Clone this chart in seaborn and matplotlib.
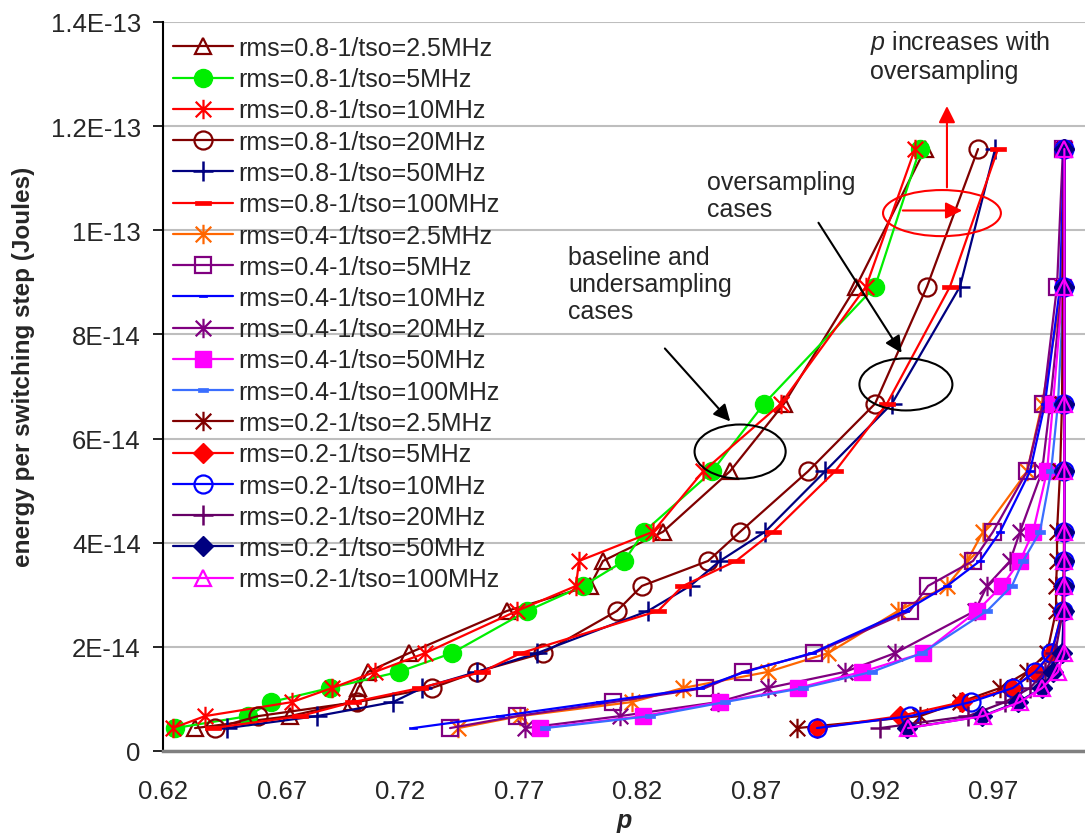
import numpy as np
import pandas as pd
import matplotlib
matplotlib.use("Agg")
import matplotlib.pyplot as plt
import seaborn as sns
from matplotlib.path import Path
from matplotlib.patches import Ellipse

# ---------------- data ----------------
energy = [4.4e-15, 6.7e-15, 9.4e-15, 1.21e-14, 1.52e-14, 1.88e-14, 2.69e-14,
          3.17e-14, 3.65e-14, 4.21e-14, 5.37e-14, 6.67e-14, 8.92e-14, 1.156e-13]

series_labels = [
    "rms=0.8-1/tso=2.5MHz", "rms=0.8-1/tso=5MHz", "rms=0.8-1/tso=10MHz",
    "rms=0.8-1/tso=20MHz", "rms=0.8-1/tso=50MHz", "rms=0.8-1/tso=100MHz",
    "rms=0.4-1/tso=2.5MHz", "rms=0.4-1/tso=5MHz", "rms=0.4-1/tso=10MHz",
    "rms=0.4-1/tso=20MHz", "rms=0.4-1/tso=50MHz", "rms=0.4-1/tso=100MHz",
    "rms=0.2-1/tso=2.5MHz", "rms=0.2-1/tso=5MHz", "rms=0.2-1/tso=10MHz",
    "rms=0.2-1/tso=20MHz", "rms=0.2-1/tso=50MHz", "rms=0.2-1/tso=100MHz",
]

p_rms08_tso2_5 = [0.6335, 0.6735, 0.6997, 0.7022, 0.7064, 0.7237, 0.7650,
                  0.8000, 0.8055, 0.8308, 0.8590, 0.8818, 0.9122, 0.9413]
p_rms08_tso5 = [0.6251, 0.6558, 0.6655, 0.6904, 0.7195, 0.7418, 0.7735,
                0.7971, 0.8144, 0.8228, 0.8515, 0.8734, 0.9202, 0.9391]
p_rms08_tso10 = [0.6242, 0.6377, 0.6744, 0.6913, 0.7094, 0.7305, 0.7692,
                 0.7941, 0.7954, 0.8266, 0.8477, 0.8805, 0.9164, 0.9370]
p_rms08_tso20 = [0.6419, 0.6601, 0.7018, 0.7334, 0.7524, 0.7802, 0.8114,
                 0.8219, 0.8498, 0.8633, 0.8919, 0.9202, 0.9421, 0.9636]
p_rms08_tso50 = [0.6470, 0.6849, 0.7170, 0.7292, 0.7524, 0.7777, 0.8245,
                 0.8422, 0.8548, 0.8738, 0.8991, 0.9273, 0.9560, 0.9708]
p_rms08_tso100 = [0.6411, 0.6778, 0.7001, 0.7283, 0.7545, 0.7709, 0.8287,
                  0.8392, 0.8616, 0.8772, 0.9033, 0.9252, 0.9518, 0.9720]
p_rms04_tso2_5 = [0.7444, 0.7705, 0.8177, 0.8392, 0.8751, 0.9004, 0.9299,
                  0.9505, 0.9590, 0.9657, 0.9843, 0.9906, 0.9994, 1.0000]
p_rms04_tso5 = [0.7410, 0.7692, 0.8097, 0.8485, 0.8645, 0.8945, 0.9349,
                0.9425, 0.9615, 0.9699, 0.9843, 0.9910, 0.9969, 0.9994]
p_rms04_tso10 = [0.7254, 0.7621, 0.8042, 0.8464, 0.8654, 0.8936, 0.9328,
                 0.9505, 0.9644, 0.9729, 0.9855, 0.9918, 0.9982, 0.9998]
p_rms04_tso20 = [0.7726, 0.8127, 0.8540, 0.8751, 0.9075, 0.9286, 0.9623,
                 0.9674, 0.9771, 0.9813, 0.9906, 0.9940, 0.9990, 1.0000]
p_rms04_tso50 = [0.7789, 0.8224, 0.8548, 0.8877, 0.9147, 0.9404, 0.9632,
                 0.9737, 0.9813, 0.9868, 0.9927, 0.9952, 0.9994, 1.0000]
p_rms04_tso100 = [0.7811, 0.8253, 0.8569, 0.8898, 0.9189, 0.9400, 0.9674,
                  0.9779, 0.9826, 0.9897, 0.9944, 0.9973, 0.9998, 1.0000]
p_rms02_tso2_5 = [0.8873, 0.9391, 0.9560, 0.9729, 0.9843, 0.9927, 0.9965,
                  0.9965, 0.9969, 0.9969, 0.9982, 0.9990, 0.9994, 0.9998]
p_rms02_tso5 = [0.8957, 0.9307, 0.9569, 0.9779, 0.9880, 0.9948, 0.9990,
                0.9994, 0.9998, 0.9998, 1.0000, 1.0000, 1.0000, 1.0000]
p_rms02_tso10 = [0.8957, 0.9349, 0.9606, 0.9783, 0.9876, 0.9944, 0.9994,
                 0.9998, 0.9998, 1.0000, 1.0000, 1.0000, 1.0000, 1.0000]
p_rms02_tso20 = [0.9223, 0.9594, 0.9750, 0.9855, 0.9918, 0.9961, 0.9994,
                 0.9998, 1.0000, 1.0000, 1.0000, 1.0000, 1.0000, 1.0000]
p_rms02_tso50 = [0.9337, 0.9653, 0.9805, 0.9906, 0.9952, 0.9990, 0.9998,
                 1.0000, 1.0000, 1.0000, 1.0000, 1.0000, 1.0000, 1.0000]
p_rms02_tso100 = [0.9341, 0.9657, 0.9813, 0.9906, 0.9973, 1.0000, 1.0000,
                  1.0000, 1.0000, 1.0000, 1.0000, 1.0000, 1.0000, 1.0000]

p_series = [p_rms08_tso2_5, p_rms08_tso5, p_rms08_tso10, p_rms08_tso20,
            p_rms08_tso50, p_rms08_tso100, p_rms04_tso2_5, p_rms04_tso5,
            p_rms04_tso10, p_rms04_tso20, p_rms04_tso50, p_rms04_tso100,
            p_rms02_tso2_5, p_rms02_tso5, p_rms02_tso10, p_rms02_tso20,
            p_rms02_tso50, p_rms02_tso100]

df = pd.DataFrame({
    "series": np.repeat(series_labels, len(energy)),
    "p": np.concatenate(p_series),
    "energy": np.tile(energy, len(series_labels)),
    "order": np.tile(np.arange(len(energy)), len(series_labels)),
})

# ---------------- styles ----------------
ast = Path([(0, -1), (0, 1), (-0.8, -0.8), (0.8, 0.8), (-0.8, 0.8), (0.8, -0.8)],
           [Path.MOVETO, Path.LINETO, Path.MOVETO, Path.LINETO, Path.MOVETO, Path.LINETO])
dash = Path([(-1, -0.32), (1, -0.32), (1, 0.32), (-1, 0.32), (-1, -0.32)], closed=True)

DR, GR, RD, NV = "#800000", "#00EE00", "#FF0000", "#000080"
OR, PU, BL, MG, CB, DP = "#FF6600", "#800080", "#0000FF", "#FF00FF", "#3A6EFF", "#660066"

styles = [
    dict(color=DR, marker="^", ms=12, mfc="none", mew=1.6),
    dict(color=GR, marker="o", ms=13, mfc=GR, mew=1.0),
    dict(color=RD, marker=ast, ms=14, mfc="none", mew=1.6),
    dict(color=DR, marker="o", ms=13, mfc="none", mew=1.6),
    dict(color=NV, marker="+", ms=14, mfc="none", mew=1.8),
    dict(color=RD, marker=dash, ms=11, mfc=RD, mew=0.5),
    dict(color=OR, marker=ast, ms=14, mfc="none", mew=1.6),
    dict(color=PU, marker="s", ms=12, mfc="none", mew=1.6),
    dict(color=BL, marker=dash, ms=6, mfc=BL, mew=0.5),
    dict(color=PU, marker=ast, ms=14, mfc="none", mew=1.6),
    dict(color=MG, marker="s", ms=12, mfc=MG, mew=1.0),
    dict(color=CB, marker=dash, ms=7, mfc=CB, mew=0.5),
    dict(color=DR, marker=ast, ms=14, mfc="none", mew=1.6),
    dict(color=RD, marker="D", ms=10, mfc=RD, mew=1.0),
    dict(color=BL, marker="o", ms=13, mfc="none", mew=1.6),
    dict(color=DP, marker="+", ms=14, mfc="none", mew=1.8),
    dict(color=NV, marker="D", ms=10, mfc=NV, mew=1.0),
    dict(color=MG, marker="^", ms=12, mfc="none", mew=1.6),
]

sns.set_style("white")
plt.rcParams["font.family"] = ["Liberation Sans", "DejaVu Sans"]
plt.rcParams["mathtext.fontset"] = "custom"
plt.rcParams["mathtext.it"] = "Liberation Sans:italic"
plt.rcParams["mathtext.rm"] = "Liberation Sans"

fig = plt.figure(figsize=(10.85, 8.37), dpi=100)
ax = fig.add_axes([163 / 1085, 85 / 837, 922 / 1085, 729 / 837])

for lab, st in zip(series_labels, styles):
    sub = df[df["series"] == lab].sort_values("order")
    sns.lineplot(data=sub, x="p", y="energy", sort=False, estimator=None,
                 errorbar=None, legend=False, ax=ax, label=lab,
                 color=st["color"], lw=1.6, marker=st["marker"],
                 markersize=st["ms"], markerfacecolor=st["mfc"],
                 markeredgecolor=st["color"], markeredgewidth=st["mew"])

ax.set_xlim(0.62, 1.0087)
ax.set_ylim(0, 1.4e-13)
xt = [0.62, 0.67, 0.72, 0.77, 0.82, 0.87, 0.92, 0.97]
ax.set_xticks(xt)
ax.set_xticklabels([f"{v:.2f}" for v in xt], fontsize=18.5)
yt = [0, 2e-14, 4e-14, 6e-14, 8e-14, 1e-13, 1.2e-13, 1.4e-13]
ax.set_yticks(yt)
ax.set_yticklabels(["0", "2E-14", "4E-14", "6E-14", "8E-14", "1E-13", "1.2E-13", "1.4E-13"],
                   fontsize=18.5)
ax.tick_params(axis="x", length=0, pad=20)
ax.tick_params(axis="y", length=7, width=1.2, pad=9, direction="out", color="black", left=True)
ax.yaxis.grid(True, color="#BEBEBE", lw=1.5)
ax.xaxis.grid(False)
ax.set_axisbelow(True)
for s in ["top", "right"]:
    ax.spines[s].set_visible(False)
ax.spines["left"].set_color("black")
ax.spines["left"].set_linewidth(1.5)
ax.spines["bottom"].set_color("#808080")
ax.spines["bottom"].set_linewidth(2.5)

ax.set_xlabel("p", fontsize=18, fontweight="bold", fontstyle="italic")
ax.xaxis.set_label_coords(0.5, -0.078)
ax.set_ylabel("energy per switching step (Joules)", fontsize=17.5, fontweight="bold")
ax.yaxis.set_label_coords(-0.139, 0.528)

ax.legend(loc="upper left", bbox_to_anchor=(10 / 922, 1 - 14 / 729), frameon=False,
          fontsize=18, handlelength=2.4, handletextpad=0.2, labelspacing=0.29,
          borderaxespad=0, borderpad=0)

# ---------------- annotations ----------------
ax.add_patch(Ellipse((0.8633, 5.75e-14), 0.0384, 1.04e-14, fill=False, ec="black", lw=1.5, zorder=5))
ax.add_patch(Ellipse((0.9332, 7.04e-14), 0.0392, 1.0e-14, fill=False, ec="black", lw=1.5, zorder=5))
ax.add_patch(Ellipse((0.9484, 10.33e-14), 0.0497, 0.885e-14, fill=False, ec="red", lw=1.5, zorder=5))
ax.annotate("", xy=(0.8599, 6.29e-14), xytext=(0.8308, 7.77e-14),
            arrowprops=dict(arrowstyle="-|>", color="black", lw=1.5, mutation_scale=25))
ax.annotate("", xy=(0.9320, 7.60e-14), xytext=(0.8957, 10.19e-14),
            arrowprops=dict(arrowstyle="-|>", color="black", lw=1.5, mutation_scale=25))
ax.annotate("", xy=(0.9581, 10.38e-14), xytext=(0.9307, 10.38e-14),
            arrowprops=dict(arrowstyle="-|>", color="red", lw=1.5, mutation_scale=25))
ax.annotate("", xy=(0.9505, 12.44e-14), xytext=(0.9505, 10.77e-14),
            arrowprops=dict(arrowstyle="-|>", color="red", lw=1.5, mutation_scale=25))

ax.text(0.7907, 9.71e-14, "baseline and\nundersampling\ncases", fontsize=18,
        ha="left", va="top", linespacing=1.15)
ax.text(0.8493, 11.15e-14, "oversampling\ncases", fontsize=18,
        ha="left", va="top", linespacing=1.15)
ax.text(0.9182, 13.88e-14, "$\\mathit{p}$ increases with\noversampling", fontsize=18,
        ha="left", va="top", linespacing=1.15)

fig.savefig("out.png", dpi=100)
